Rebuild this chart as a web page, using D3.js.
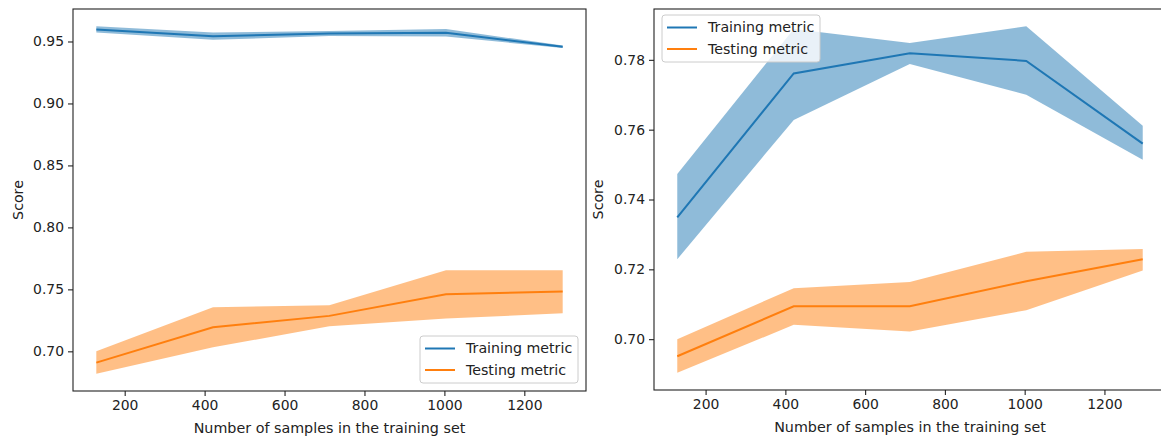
<!DOCTYPE html>
<html>
<head>
<meta charset="utf-8">
<script src="https://cdn.jsdelivr.net/npm/d3@7"></script>
<style>
  html, body { margin: 0; padding: 0; background: #fff; }
  svg { display: block; }
  text { font-family: "DejaVu Sans", sans-serif; fill: #222; }
</style>
</head>
<body>
<div id="chart"></div>
<script>
// training set sizes (shared by both panels)
var trainSizes = [129, 421, 712, 1004, 1296];
var xTicks = [200, 400, 600, 800, 1000, 1200];

// left panel
var leftTrainMean = [0.9597, 0.9543, 0.9565, 0.9570, 0.9457];
var leftTrainLow  = [0.9572, 0.9513, 0.9545, 0.9540, 0.9447];
var leftTrainHigh = [0.9622, 0.9573, 0.9585, 0.9600, 0.9467];
var leftTestMean  = [0.6909, 0.7194, 0.7286, 0.7461, 0.7483];
var leftTestLow   = [0.6820, 0.7032, 0.7202, 0.7265, 0.7307];
var leftTestHigh  = [0.7000, 0.7356, 0.7372, 0.7655, 0.7655];
var leftYTicks = [0.70, 0.75, 0.80, 0.85, 0.90, 0.95];

// right panel
var rightTrainMean = [0.7349, 0.7761, 0.7819, 0.7797, 0.7560];
var rightTrainLow  = [0.7229, 0.7628, 0.7788, 0.7700, 0.7514];
var rightTrainHigh = [0.7473, 0.7888, 0.7848, 0.7896, 0.7611];
var rightTestMean  = [0.6951, 0.7094, 0.7094, 0.7166, 0.7229];
var rightTestLow   = [0.6904, 0.7041, 0.7022, 0.7083, 0.7197];
var rightTestHigh  = [0.7000, 0.7146, 0.7164, 0.7250, 0.7258];
var rightYTicks = [0.70, 0.72, 0.74, 0.76, 0.78];

var seriesNames = ['Training metric', 'Testing metric'];
var colors = ['#1f77b4', '#ff7f0e'];

var W = 1161, H = 437;
var svg = d3.select('#chart').append('svg')
    .attr('width', W)
    .attr('height', H);

// padded domain, like matplotlib's 5% margins
function padded(lo, hi) {
  var m = (hi - lo) * 0.05;
  return [lo - m, hi + m];
}

function drawPanel(p) {
  var x = d3.scaleLinear()
      .domain(padded(d3.min(trainSizes), d3.max(trainSizes)))
      .range([p.left, p.right]);

  var allLow = d3.min(p.series, function (s) { return d3.min(s.low); });
  var allHigh = d3.max(p.series, function (s) { return d3.max(s.high); });
  var y = d3.scaleLinear()
      .domain(padded(allLow, allHigh))
      .range([p.bottom, p.top]);

  var g = svg.append('g');

  var area = d3.area()
      .x(function (d) { return x(d.x); })
      .y0(function (d) { return y(d.lo); })
      .y1(function (d) { return y(d.hi); });

  var line = d3.line()
      .x(function (d) { return x(d.x); })
      .y(function (d) { return y(d.m); });

  p.series.forEach(function (s, i) {
    var pts = trainSizes.map(function (v, j) {
      return { x: v, m: s.mean[j], lo: s.low[j], hi: s.high[j] };
    });
    g.append('path')
        .datum(pts)
        .attr('d', area)
        .style('fill', colors[i])
        .style('fill-opacity', 0.5);
    g.append('path')
        .datum(pts)
        .attr('d', line)
        .style('fill', 'none')
        .style('stroke', colors[i])
        .style('stroke-width', 2);
  });

  var xAxis = g.append('g')
      .attr('transform', 'translate(0,' + p.bottom + ')')
      .call(d3.axisBottom(x).tickValues(xTicks).tickSize(5).tickPadding(4).tickFormat(d3.format('d')));
  var yAxis = g.append('g')
      .attr('transform', 'translate(' + p.left + ',0)')
      .call(d3.axisLeft(y).tickValues(p.yTicks).tickSize(5).tickPadding(4).tickFormat(d3.format('.2f')));

  [xAxis, yAxis].forEach(function (a) {
    a.select('.domain').remove();
    a.selectAll('line').style('stroke', '#222').style('stroke-width', 1.1);
    a.selectAll('text')
        .style('font-family', '"DejaVu Sans", sans-serif')
        .style('font-size', '13.9px')
        .style('fill', '#222');
  });

  // frame
  g.append('rect')
      .attr('x', p.left)
      .attr('y', p.top)
      .attr('width', p.right - p.left)
      .attr('height', p.bottom - p.top)
      .style('fill', 'none')
      .style('stroke', '#222')
      .style('stroke-width', 1.1);

  g.append('text')
      .attr('x', (p.left + p.right) / 2)
      .attr('y', p.bottom + 42)
      .style('font-size', '14.3px')
      .style('text-anchor', 'middle')
      .text('Number of samples in the training set');

  g.append('text')
      .attr('transform', 'translate(' + p.yLabelX + ',' + (p.top + p.bottom) / 2 + ') rotate(-90)')
      .style('font-size', '14.2px')
      .style('text-anchor', 'middle')
      .text('Score');

  // legend
  var lg = g.append('g')
      .attr('transform', 'translate(' + p.legend[0] + ',' + p.legend[1] + ')');
  lg.append('rect')
      .attr('width', 158)
      .attr('height', 47)
      .attr('rx', 3)
      .style('fill', '#fff')
      .style('fill-opacity', 0.8)
      .style('stroke', '#ccc')
      .style('stroke-width', 1);
  seriesNames.forEach(function (name, i) {
    var ly = 12.5 + i * 21.5;
    lg.append('line')
        .attr('x1', 5).attr('x2', 35)
        .attr('y1', ly).attr('y2', ly)
        .style('stroke', colors[i])
        .style('stroke-width', 2);
    lg.append('text')
        .attr('x', 46)
        .attr('y', ly)
        .attr('dy', '0.35em')
        .style('font-size', '14.2px')
        .text(name);
  });
}

drawPanel({
  left: 73, right: 586, top: 9, bottom: 391,
  yTicks: leftYTicks, yLabelX: 23,
  legend: [420, 336],
  series: [
    { mean: leftTrainMean, low: leftTrainLow, high: leftTrainHigh },
    { mean: leftTestMean, low: leftTestLow, high: leftTestHigh }
  ]
});

drawPanel({
  left: 654, right: 1166, top: 9, bottom: 390,
  yTicks: rightYTicks, yLabelX: 603,
  legend: [662, 15],
  series: [
    { mean: rightTrainMean, low: rightTrainLow, high: rightTrainHigh },
    { mean: rightTestMean, low: rightTestLow, high: rightTestHigh }
  ]
});
</script>
</body>
</html>
